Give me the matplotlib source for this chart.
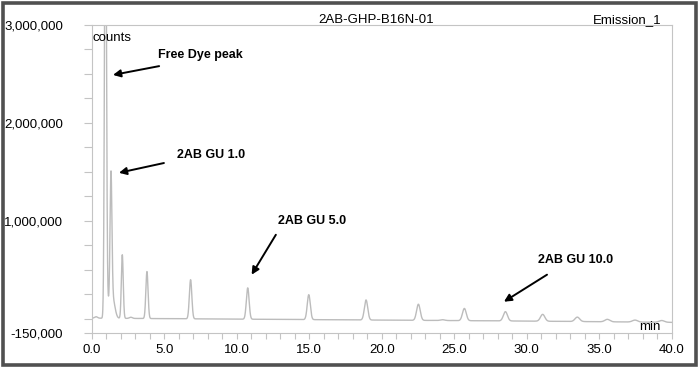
import numpy as np
import matplotlib.pyplot as plt
from matplotlib.patches import Rectangle
from matplotlib.ticker import FixedLocator, MultipleLocator

plt.rcParams['font.family'] = ['Liberation Sans', 'DejaVu Sans']

# peak table: retention time (min), height (counts), width (sigma, min)
peak_times = [0.30, 0.95, 1.10, 1.33, 1.45, 2.11, 2.70, 3.81, 6.82, 10.76, 14.97,
              18.92, 22.53, 24.20, 25.70, 28.53, 31.10, 33.49, 35.56, 37.47, 39.31]
peak_heights = [15e3, 5.0e6, 0.15e6, 1.35e6, 0.20e6, 0.65e6, 12e3, 0.48e6, 0.40e6, 0.32e6, 0.255e6,
                0.205e6, 0.165e6, 8e3, 0.125e6, 0.095e6, 0.07e6, 0.045e6, 0.025e6, 0.02e6, 0.018e6]
peak_sigmas = [0.10, 0.065, 0.10, 0.065, 0.15, 0.065, 0.10, 0.075, 0.085, 0.095, 0.105,
               0.115, 0.125, 0.15, 0.13, 0.14, 0.15, 0.16, 0.17, 0.18, 0.18]

# baseline drift
base_times = [0, 5, 15, 30, 40]
base_levels = [5000, 0, -10000, -25000, -38000]

ytick_major = [-150000, 1000000, 2000000, 3000000]
ytick_labels = ['-150,000', '1,000,000', '2,000,000', '3,000,000']
ytick_minor = [0, 250000, 500000, 750000, 1250000, 1500000, 1750000,
               2250000, 2500000, 2750000]

# (label, text x, text y, arrow start x, arrow start y, arrow tip x, arrow tip y)
notes = [
    ('Free Dye peak', 4.57, 2.69e6, 4.65, 2.58e6, 1.47, 2.49e6),
    ('2AB GU 1.0', 5.88, 1.67e6, 4.98, 1.59e6, 1.88, 1.49e6),
    ('2AB GU 5.0', 12.85, 1.00e6, 12.7, 0.857e6, 11.03, 0.449e6),
    ('2AB GU 10.0', 30.78, 0.60e6, 31.4, 0.449e6, 28.43, 0.173e6),
]

t = np.linspace(0, 40, 8001)
signal = np.interp(t, base_times, base_levels)
for t0, h, s in zip(peak_times, peak_heights, peak_sigmas):
    signal = signal + h * np.exp(-0.5 * ((t - t0) / s) ** 2)

fig = plt.figure(figsize=(7.0, 3.69), dpi=100)
ax = fig.add_axes([0.131, 0.0967, 0.8286, 0.8355])

gray = '#c4c4c4'
ax.plot(t, signal, color='#bcbcbc', lw=1.0)

ax.set_xlim(0, 40)
ax.set_ylim(-150000, 3000000)

ax.xaxis.set_major_locator(FixedLocator(np.arange(0, 45, 5)))
ax.xaxis.set_minor_locator(MultipleLocator(1))
ax.set_xticklabels(['%.1f' % v for v in np.arange(0, 45, 5)])

ax.yaxis.set_major_locator(FixedLocator(ytick_major))
ax.yaxis.set_minor_locator(FixedLocator(ytick_minor))
ax.set_yticklabels(ytick_labels)

ax.tick_params(axis='x', which='both', direction='out', length=4, width=0.8,
               color=gray, labelsize=9.5, pad=4)
ax.tick_params(axis='y', which='both', direction='out', length=6, width=0.8,
               color=gray, labelsize=9.5, pad=14.5)
for sp in ax.spines.values():
    sp.set_color(gray)
    sp.set_linewidth(0.8)

ax.text(0.05, 2.87e6, 'counts', fontsize=9.5, ha='left', va='center')
ax.text(38.5, -82000, 'min', fontsize=9.5, ha='center', va='center')

for label, tx, ty, sx, sy, px, py in notes:
    ax.text(tx, ty, label, fontsize=9, fontweight='bold', ha='left', va='center')
    ax.annotate('', xy=(px, py), xytext=(sx, sy),
                arrowprops=dict(arrowstyle='-|>', color='black', lw=1.4,
                                mutation_scale=11, shrinkA=0, shrinkB=0))

fig.text(376 / 700, 1 - 20 / 369, '2AB-GHP-B16N-01', fontsize=9.5, ha='center', va='center')
fig.text(627 / 700, 1 - 20 / 369, 'Emission_1', fontsize=9.5, ha='center', va='center')

# frame round the whole picture
fig.patches.append(Rectangle((2.5 / 700, 4.5 / 369), 693 / 700, 362 / 369,
                             transform=fig.transFigure, fill=False,
                             edgecolor='#505050', lw=2.6))

fig.savefig('out.png', dpi=100)
